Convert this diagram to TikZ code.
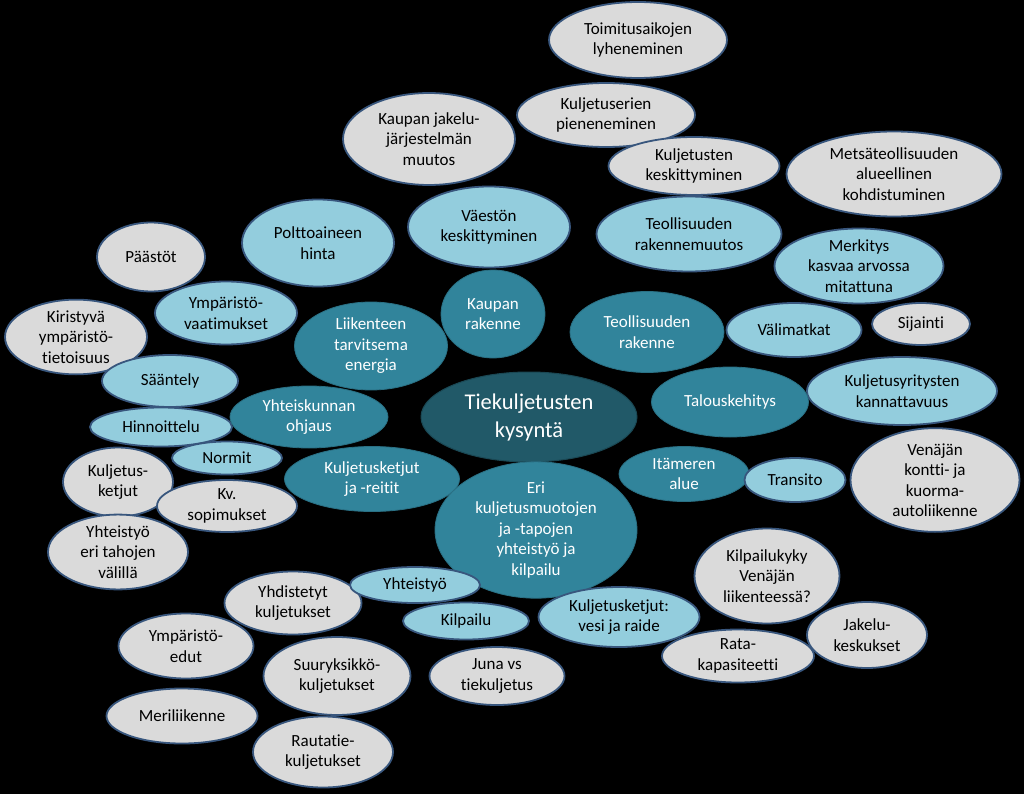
\documentclass[tikz,border=0pt]{standalone}
\usepackage{fontspec}
\setmainfont[Ligatures=CommonOff]{Carlito}
\usetikzlibrary{shapes.geometric}
\definecolor{greyfill}{RGB}{218,218,218}
\definecolor{lightfill}{RGB}{147,205,221}
\definecolor{midfill}{RGB}{49,132,155}
\definecolor{corefill}{RGB}{33,89,104}
\definecolor{edgecol}{RGB}{56,86,125}

\begin{document}
\begin{tikzpicture}[x=1pt, y=-1pt,
		bubble/.style={ellipse, draw=edgecol, line width=1.8pt, inner sep=0pt, align=center, font=\fontsize{17}{20.5}\selectfont},
		greybub/.style={bubble, fill=greyfill, text=black},
		lightbub/.style={bubble, fill=lightfill, text=black},
		midbub/.style={bubble, fill=midfill, draw=midfill!85!black, line width=0.8pt, text=white},
		corebub/.style={bubble, fill=corefill, draw=corefill!80!black, line width=1pt, text=white, font=\fontsize{22.5}{28}\selectfont},
	]
		\fill[black] (0,0) rectangle (1024,794);
		\useasboundingbox (0,0) rectangle (1024,794);

		% upper part
		\node[greybub, minimum width=178, minimum height=76] (toim) at (638,40) {Toimitusaikojen\\lyheneminen};
		\node[greybub, minimum width=172, minimum height=92] (kjak) at (429,139) {Kaupan jakelu-\\järjestelmän\\muutos};
		\node[greybub, minimum width=178, minimum height=64] (kser) at (606,115) {Kuljetuserien\\pieneneminen};
		\node[greybub, minimum width=171, minimum height=58] (kkes) at (694,166) {Kuljetusten\\keskittyminen};
		\node[greybub, minimum width=215, minimum height=85] (mets) at (894,174) {Metsäteollisuuden\\alueellinen\\kohdistuminen};
		\node[lightbub, minimum width=162, minimum height=81] (vaes) at (489,227) {Väestön\\keskittyminen};
		\node[lightbub, minimum width=185, minimum height=75] (trm) at (689,234) {Teollisuuden\\rakennemuutos};
		\node[lightbub, minimum width=152, minimum height=87] (polt) at (318,243) {Polttoaineen\\hinta};
		\node[greybub, minimum width=108, minimum height=69] (paas) at (151,257) {Päästöt};
		\node[lightbub, minimum width=169, minimum height=75] (merk) at (859,266) {Merkitys\\kasvaa arvossa\\mitattuna};

		% left part
		\node[lightbub, minimum width=142, minimum height=63] (yvaa) at (226,313) {Ympäristö-\\vaatimukset};
		\node[greybub, minimum width=142, minimum height=69] (kiri) at (76,337) {Kiristyvä\\ympäristö-\\tietoisuus};
		\node[midbub, minimum width=153, minimum height=88] (liik) at (371,346) {Liikenteen\\tarvitsema\\energia};
		\node[midbub, minimum width=104, minimum height=88] (krak) at (493,314) {Kaupan\\rakenne};
		\node[lightbub, minimum width=136, minimum height=52] (saan) at (170,381) {Sääntely};
		\node[lightbub, minimum width=142, minimum height=39] (hinn) at (161,427) {Hinnoittelu};
		\node[midbub, minimum width=158, minimum height=62] (yoh) at (309,417) {Yhteiskunnan\\ohjaus};
		\node[lightbub, minimum width=110, minimum height=33] (norm) at (227,458) {Normit};
		\node[greybub, minimum width=110, minimum height=69] (kket) at (118,482) {Kuljetus-\\ketjut};
		\node[greybub, minimum width=140, minimum height=52] (kvs) at (227,506) {Kv.\\sopimukset};
		\node[midbub, minimum width=175, minimum height=65] (kjr) at (372,479) {Kuljetusketjut\\ja -reitit};
		\node[greybub, minimum width=140, minimum height=69] (yhet) at (118,552) {Yhteistyö\\eri tahojen\\välillä};

		% right part
		\node[midbub, minimum width=154, minimum height=81] (trak) at (647,332) {Teollisuuden\\rakenne};
		\node[lightbub, minimum width=135, minimum height=54] (vali) at (794,330) {Välimatkat};
		\node[greybub, minimum width=98, minimum height=42] (sij) at (921,324) {Sijainti};
		\node[lightbub, minimum width=190, minimum height=68] (kyr) at (902,391) {Kuljetusyritysten\\kannattavuus};
		\node[midbub, minimum width=157, minimum height=70] (talo) at (730,402) {Talouskehitys};
		\node[greybub, minimum width=169, minimum height=96] (ven) at (935,480) {Venäjän\\kontti- ja\\kuorma-\\autoliikenne};
		\node[midbub, minimum width=130, minimum height=55] (itam) at (684,474) {Itämeren\\alue};
		\node[lightbub, minimum width=101, minimum height=44] (tran) at (795,480) {Transito};

		% centre
		\node[corebub, minimum width=216, minimum height=90] (tk) at (529,417) {Tiekuljetusten\\kysyntä};
		\node[midbub, minimum width=202, minimum height=125] (eri) at (536,530) {Eri\\kuljetusmuotojen\\ja -tapojen\\yhteistyö ja\\kilpailu};

		% lower part
		\node[greybub, minimum width=145, minimum height=95] (kky) at (767,576) {Kilpailukyky\\Venäjän\\liikenteessä?};
		\node[greybub, minimum width=137, minimum height=63] (yhd) at (293,603) {Yhdistetyt\\kuljetukset};
		\node[lightbub, minimum width=130, minimum height=36] (yht) at (415,585) {Yhteistyö};
		\node[lightbub, minimum width=126, minimum height=37] (kilp) at (466,621) {Kilpailu};
		\node[lightbub, minimum width=161, minimum height=60] (kvr) at (619,617) {Kuljetusketjut:\\vesi ja raide};
		\node[greybub, minimum width=120, minimum height=66] (jak) at (867,635) {Jakelu-\\keskukset};
		\node[greybub, minimum width=152, minimum height=53] (rata) at (738,656) {Rata-\\kapasiteetti};
		\node[greybub, minimum width=135, minimum height=65] (yedu) at (186,646) {Ympäristö-\\edut};
		\node[greybub, minimum width=147, minimum height=78] (suur) at (337,676) {Suuryksikkö-\\kuljetukset};
		\node[greybub, minimum width=135, minimum height=58] (juna) at (497,676) {Juna vs\\tiekuljetus};
		\node[greybub, minimum width=151, minimum height=55] (meri) at (182,716) {Meriliikenne};
		\node[greybub, minimum width=140, minimum height=71] (raut) at (323,752) {Rautatie-\\kuljetukset};
	\end{tikzpicture}
\end{document}
